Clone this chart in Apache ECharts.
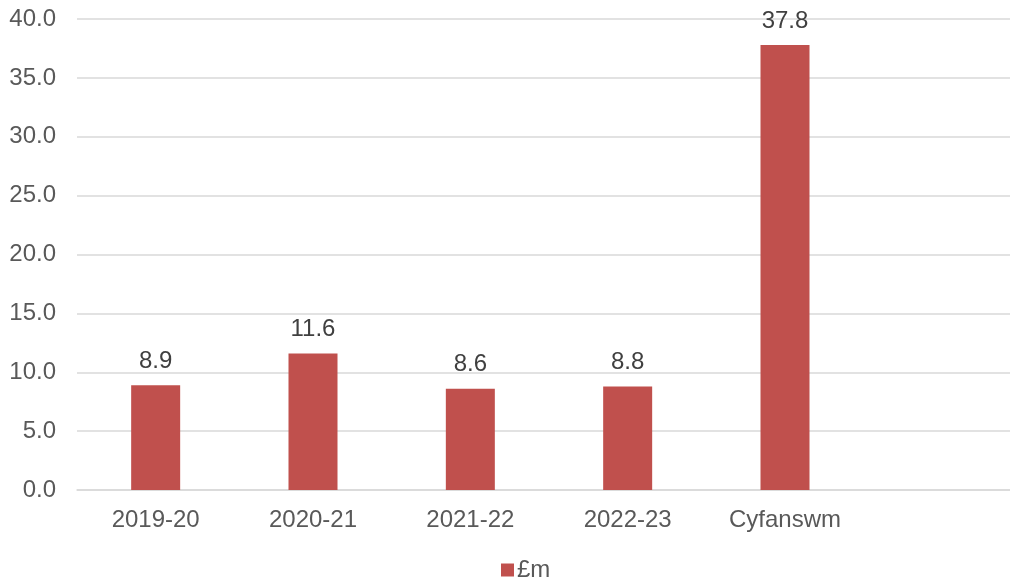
<!DOCTYPE html>
<html>
<head>
<meta charset="utf-8">
<script src="https://cdn.jsdelivr.net/npm/echarts@6/dist/echarts.min.js"></script>
<style>
html,body{margin:0;padding:0;background:#fff;overflow:hidden;}
#wrap{width:1010px;height:580px;overflow:hidden;}
#chart{width:1021px;height:580px;}
</style>
</head>
<body>
<div id="wrap"><div id="chart"></div></div>
<script>
var categories = ['2019-20', '2020-21', '2021-22', '2022-23', 'Cyfanswm', ''];
var seriesName = '£m';
var values = [8.9, 11.6, 8.6, 8.8, 37.8, null];
var yTicks = { min: 0, max: 40, interval: 5 };

var chart = echarts.init(document.getElementById('chart'));
var font = 'Liberation Sans, Arial, sans-serif';
chart.setOption({
  animation: false,
  backgroundColor: '#ffffff',
  grid: { left: 77, right: 0, top: 19, bottom: 90, containLabel: false },
  legend: {
    top: 553,
    left: 496,
    data: [seriesName],
    icon: 'rect',
    itemWidth: 13,
    itemHeight: 13,
    itemGap: 10,
    textStyle: { fontFamily: font, fontSize: 24, color: '#595959', padding: [0, 0, 0, -2] }
  },
  xAxis: {
    type: 'category',
    data: categories,
    axisLine: { show: true, lineStyle: { color: '#D9D9D9', width: 1.5 } },
    axisTick: { show: false },
    axisLabel: { fontFamily: font, fontSize: 24, color: '#595959', margin: 18, interval: 0 },
    splitLine: { show: false }
  },
  yAxis: {
    type: 'value',
    min: yTicks.min,
    max: yTicks.max,
    interval: yTicks.interval,
    axisLine: { show: false },
    axisTick: { show: false },
    axisLabel: {
      fontFamily: font, fontSize: 24, color: '#595959', margin: 21,
      formatter: function (v) { return v.toFixed(1); }
    },
    splitLine: { show: true, lineStyle: { color: '#D9D9D9', width: 1.5 } }
  },
  series: [{
    name: seriesName,
    type: 'bar',
    data: values,
    barWidth: 49,
    itemStyle: { color: '#C0504D' },
    label: {
      show: true,
      position: 'top',
      distance: 12,
      fontFamily: font,
      fontSize: 24,
      color: '#404040',
      formatter: function (p) { return p.value == null ? '' : p.value.toFixed(1); }
    }
  }]
});
</script>
</body>
</html>
